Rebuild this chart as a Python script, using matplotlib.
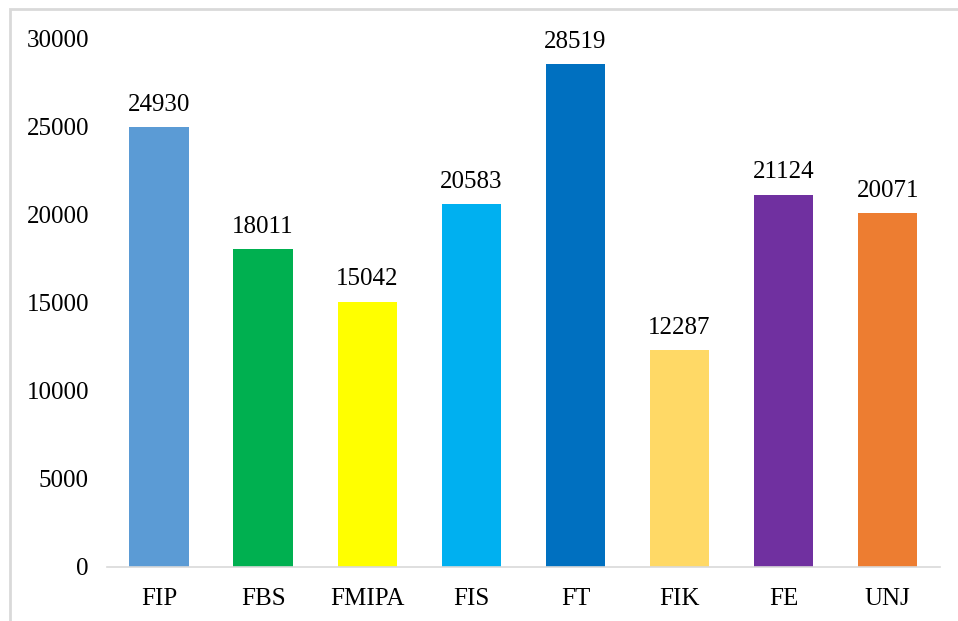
import matplotlib.pyplot as plt
from matplotlib.patches import Rectangle

# data
fakultas = ["FIP", "FBS", "FMIPA", "FIS", "FT", "FIK", "FE", "UNJ"]
nilai = [24930, 18011, 15042, 20583, 28519, 12287, 21124, 20071]
warna = ["#5B9BD5", "#00B050", "#FFFF00", "#00B0F0", "#0070C0", "#FFD966", "#7030A0", "#ED7D31"]

plt.rcParams["font.family"] = ["Liberation Serif", "DejaVu Serif"]

fig = plt.figure(figsize=(9.58, 6.21), dpi=100)
ax = fig.add_axes([0.1117, 0.087, 0.8693, 0.8518])

bars = ax.bar(range(len(fakultas)), nilai, width=0.57, color=warna)
for b, v in zip(bars, nilai):
    ax.text(b.get_x() + b.get_width() / 2, v + 650, str(v),
            ha="center", va="bottom", fontsize=18, color="black")

ax.set_xlim(-0.5, len(fakultas) - 0.5)
ax.set_ylim(0, 30000)
ax.set_yticks(range(0, 30001, 5000))
ax.set_xticks(range(len(fakultas)))
ax.set_xticklabels(fakultas)
ax.tick_params(axis="both", length=0, labelsize=18, colors="black")
ax.tick_params(axis="y", pad=13)
ax.tick_params(axis="x", pad=15)

for s in ["top", "right", "left"]:
    ax.spines[s].set_visible(False)
ax.spines["bottom"].set_color("#D9D9D9")
ax.spines["bottom"].set_linewidth(1.2)

# chart border (cropped on right and bottom)
fig.patches.append(Rectangle((9.5 / 958, -0.05), 1.2, 1 - 9 / 621 + 0.05,
                             transform=fig.transFigure, fill=False,
                             edgecolor="#D9D9D9", linewidth=2))

fig.savefig("out.png", dpi=100)
